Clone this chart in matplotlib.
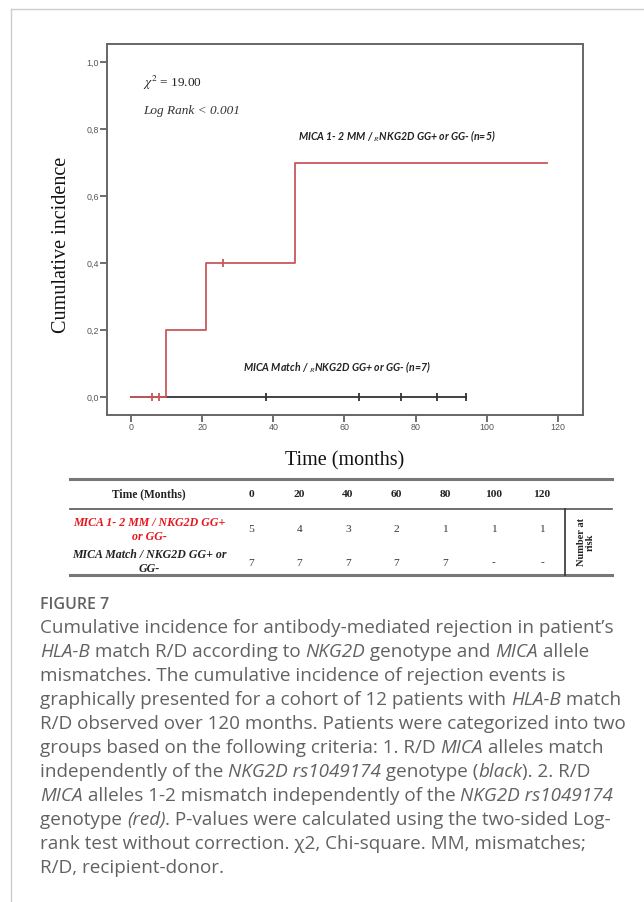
import matplotlib
matplotlib.use("Agg")
import matplotlib.pyplot as plt
from matplotlib.lines import Line2D

W, H = 644, 902

# curve data (months, cumulative incidence)
red_times = [0, 10, 21, 46, 117]
red_cum = [0.0, 0.2, 0.4, 0.7, 0.7]
red_censor_t = [6, 8, 26]
red_censor_y = [0.0, 0.0, 0.4]

black_times = [0, 94]
black_cum = [0.0, 0.0]
black_censor_t = [38, 64, 76, 86, 94]
black_censor_y = [0.0, 0.0, 0.0, 0.0, 0.0]

x_ticks = [0, 20, 40, 60, 80, 100, 120]
y_ticks = [0.0, 0.2, 0.4, 0.6, 0.8, 1.0]

# number at risk table
risk_times = ["0", "20", "40", "60", "80", "100", "120"]
risk_red = ["5", "4", "3", "2", "1", "1", "1"]
risk_black = ["7", "7", "7", "7", "7", "-", "-"]

caption_title = "FIGURE 7"
caption_lines = [
    [("Cumulative incidence for antibody-mediated rejection in patient\u2019s", False)],
    [("HLA-B", True), (" match R/D according to ", False), ("NKG2D", True),
     (" genotype and ", False), ("MICA", True), (" allele", False)],
    [("mismatches. The cumulative incidence of rejection events is", False)],
    [("graphically presented for a cohort of 12 patients with ", False),
     ("HLA-B", True), (" match", False)],
    [("R/D observed over 120 months. Patients were categorized into two", False)],
    [("groups based on the following criteria: 1. R/D ", False), ("MICA", True),
     (" alleles match", False)],
    [("independently of the ", False), ("NKG2D rs1049174", True),
     (" genotype (", False), ("black", True), ("). 2. R/D", False)],
    [("MICA", True), (" alleles 1-2 mismatch independently of the ", False),
     ("NKG2D rs1049174", True)],
    [("genotype ", False), ("(red)", True),
     (". P-values were calculated using the two-sided Log-", False)],
    [("rank test without correction. \u03c72, Chi-square. MM, mismatches;", False)],
    [("R/D, recipient-donor.", False)],
]

RED = "#c9575a"
DARK = "#333333"
SERIF = "Liberation Serif"


def fx(x):
    return x / W


def fy(y):
    return 1 - y / H


fig = plt.figure(figsize=(W / 100, H / 100), dpi=100)
fig.patch.set_facecolor("white")

# card border (top and left)
fig.add_artist(Line2D([fx(11), 1], [fy(9), fy(9)], color="#cccccc", lw=1))
fig.add_artist(Line2D([fx(11), fx(11)], [fy(9), 0], color="#cccccc", lw=1))

# main axes
ax = fig.add_axes([fx(107), fy(415), (583 - 107) / W, (415 - 44) / H])
ax.set_xlim(-6.7, 127)
ax.set_ylim(-0.054, 1.054)
for s in ax.spines.values():
    s.set_color("#666666")
    s.set_linewidth(1.4)
ax.set_xticks(x_ticks)
ax.set_yticks(y_ticks)
ax.set_xticklabels([str(t) for t in x_ticks])
ax.set_yticklabels([f"{v:.1f}".replace(".", ",") for v in y_ticks])
ax.tick_params(direction="out", length=5, width=1.2, color="#555555",
               labelsize=6.4, labelcolor="#555555", pad=1)
for lab in ax.get_xticklabels() + ax.get_yticklabels():
    lab.set_fontfamily("Liberation Sans")

ax.step(black_times, black_cum, where="post", color=DARK, lw=1.3)
ax.plot(black_censor_t, black_censor_y, ls="none", marker="|", ms=6, mew=1.3, color=DARK)
ax.step(red_times, red_cum, where="post", color=RED, lw=1.3)
ax.plot(red_censor_t, red_censor_y, ls="none", marker="|", ms=6, mew=1.3, color=RED)

plt.rcParams["mathtext.fontset"] = "stix"
fig.text(fx(143), fy(87), r"$\chi^{2}$ = 19.00", fontsize=9.5, family=SERIF,
         color="#222222", va="baseline")
fig.text(fx(143), fy(114), "Log Rank < 0.001", fontsize=9.5, family=SERIF,
         style="italic", color="#333333", va="baseline")
fig.text(fx(298), fy(140), r"MICA 1- 2 MM / $_{R}$NKG2D GG+ or GG- (n=5)", fontsize=7.6,
         family="Lato", weight="bold", style="italic", color="#222222", va="baseline")
fig.text(fx(243), fy(371), r"MICA Match / $_{R}$NKG2D GG+ or GG- (n=7)", fontsize=7.6,
         family="Lato", weight="bold", style="italic", color="#222222", va="baseline")

fig.text(fx(62), fy(245), "Cumulative incidence", rotation=90, fontsize=14.5,
         family=SERIF, ha="center", va="center", color="#111111")
fig.text(fx(345), fy(461), "Time (months)", fontsize=14.5, family=SERIF,
         ha="center", va="center", color="#111111")

# number at risk table
fig.add_artist(Line2D([fx(70), fx(612)], [fy(479), fy(479)], color="#777777", lw=2.2))
fig.add_artist(Line2D([fx(70), fx(612)], [fy(509), fy(509)], color="#555555", lw=1.2))
fig.add_artist(Line2D([fx(70), fx(612)], [fy(575), fy(575)], color="#777777", lw=2.2))
fig.add_artist(Line2D([fx(565), fx(565)], [fy(509), fy(575)], color="#333333", lw=1.2))

fig.text(fx(149), fy(494), "Time (Months)", fontsize=8.3, family=SERIF, weight="bold",
         ha="center", va="center", color="#222222")
fig.text(fx(149), fy(530), "MICA 1- 2 MM / NKG2D GG+\nor GG-", fontsize=8.6, family=SERIF,
         weight="bold", style="italic", ha="center", va="center", color="#e8141b",
         linespacing=1.3)
fig.text(fx(149), fy(562), "MICA Match / NKG2D GG+ or\nGG-", fontsize=8.6, family=SERIF,
         weight="bold", style="italic", ha="center", va="center", color="#222222",
         linespacing=1.3)
for i, t in enumerate(risk_times):
    x = 251 + i * 48.5
    fig.text(fx(x), fy(494), t, fontsize=8.2, family=SERIF, weight="bold",
             ha="center", va="center", color="#222222")
    fig.text(fx(x), fy(530), risk_red[i], fontsize=8.2, family=SERIF,
             ha="center", va="center", color="#333333")
    fig.text(fx(x), fy(563), risk_black[i], fontsize=8.2, family=SERIF,
             ha="center", va="center", color="#333333")
fig.text(fx(586), fy(542), "Number at\nrisk", rotation=90, fontsize=7.5, family=SERIF,
         weight="bold", ha="center", va="center", color="#222222", linespacing=1.0)

# caption
CAP = "Open Sans"
CAP_COLOR = "#626262"
fig.text(fx(40), fy(609), caption_title, fontsize=11.5, family=CAP, color=CAP_COLOR,
         weight="semibold", va="baseline")

renderer = fig.canvas.get_renderer()


def seg_width(s, italic, size):
    st = "italic" if italic else "normal"
    a = fig.text(0, 0, "x" + s + "x", fontsize=size, family=CAP, style=st)
    b = fig.text(0, 0, "xx", fontsize=size, family=CAP, style=st)
    w = a.get_window_extent(renderer).width - b.get_window_extent(renderer).width
    a.remove()
    b.remove()
    return w


cap_size = 13.6
for k, line in enumerate(caption_lines):
    x = 40
    y = 633 + k * 24
    for s, italic in line:
        fig.text(fx(x), fy(y), s, fontsize=cap_size, family=CAP, color=CAP_COLOR,
                 style="italic" if italic else "normal", va="baseline")
        x += seg_width(s, italic, cap_size)

fig.savefig("out.png", dpi=100, facecolor="white")
